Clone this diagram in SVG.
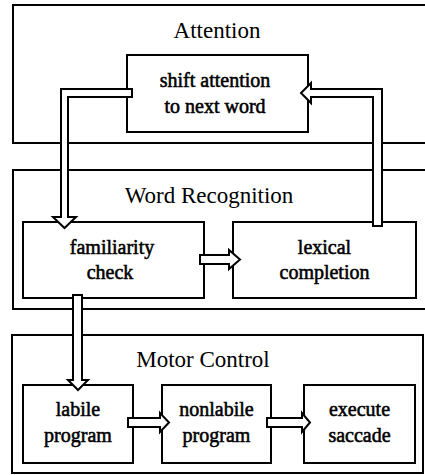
<svg xmlns="http://www.w3.org/2000/svg" width="425" height="475" viewBox="0 0 425 475">
  <style>
    .box { fill: none; stroke: #000; stroke-width: 2; }
    .title { font-family: "Liberation Serif", "Times New Roman", serif; font-size: 23px; fill: #000; text-anchor: middle; }
    .label { font-family: "Liberation Serif", "Times New Roman", serif; font-size: 20px; fill: #000; stroke: #000; stroke-width: 0.55; text-anchor: middle; }
    .arrow { fill: #fff; stroke: #000; stroke-width: 2; stroke-linejoin: miter; }
  </style>
  <rect x="0" y="0" width="425" height="475" fill="#fff"/>

  <!-- processing stages -->
  <g id="attention">
    <rect class="box" x="13" y="5" width="420" height="138"/>
    <text class="title" x="217" y="38">Attention</text>
  </g>
  <g id="word-recognition">
    <rect class="box" x="13" y="170" width="420" height="139"/>
    <text class="title" x="209" y="203">Word Recognition</text>
  </g>
  <g id="motor-control">
    <rect class="box" x="12" y="335" width="411" height="138"/>
    <text class="title" x="203" y="367">Motor Control</text>
  </g>

  <!-- process boxes -->
  <g id="shift-attention">
    <rect class="box" x="127" y="55" width="181" height="77"/>
    <text class="label" x="215" y="87">shift attention</text>
    <text class="label" x="215" y="113">to next word</text>
  </g>
  <g id="familiarity-check">
    <rect class="box" x="23" y="222" width="181" height="76"/>
    <text class="label" x="112" y="254">familiarity</text>
    <text class="label" x="110" y="279">check</text>
  </g>
  <g id="lexical-completion">
    <rect class="box" x="233" y="222" width="183" height="76"/>
    <text class="label" x="324.5" y="254">lexical</text>
    <text class="label" x="324.5" y="279">completion</text>
  </g>
  <g id="labile-program">
    <rect class="box" x="23" y="385" width="110" height="78"/>
    <text class="label" x="78" y="416">labile</text>
    <text class="label" x="78" y="442">program</text>
  </g>
  <g id="nonlabile-program">
    <rect class="box" x="162" y="385" width="109" height="78"/>
    <text class="label" x="216.5" y="416">nonlabile</text>
    <text class="label" x="216.5" y="442">program</text>
  </g>
  <g id="execute-saccade">
    <rect class="box" x="304" y="385" width="111" height="78"/>
    <text class="label" x="359.5" y="416">execute</text>
    <text class="label" x="359.5" y="442">saccade</text>
  </g>

  <!-- hollow block arrows between the boxes -->
  <g id="connectors">
    <polygon class="arrow" points="132,89 61,89 61,217 53,217 64.5,228 76,217 68,217 68,97 132,97"/>
    <polygon class="arrow" points="373,226 373,97 311,97 311,103 301,93 311,83 311,89 382,89 382,226"/>
    <polygon class="arrow" points="200,255 229,255 229,250 240,259.5 229,269 229,264 200,264"/>
    <polygon class="arrow" points="73,295 82,295 82,380 88,380 78,390 68,380 73,380"/>
    <polygon class="arrow" points="128,418 160,418 160,413 169,422.5 160,432 160,427 128,427"/>
    <polygon class="arrow" points="267,418 302,418 302,413 310,422.5 302,432 302,427 267,427"/>
  </g>
</svg>
